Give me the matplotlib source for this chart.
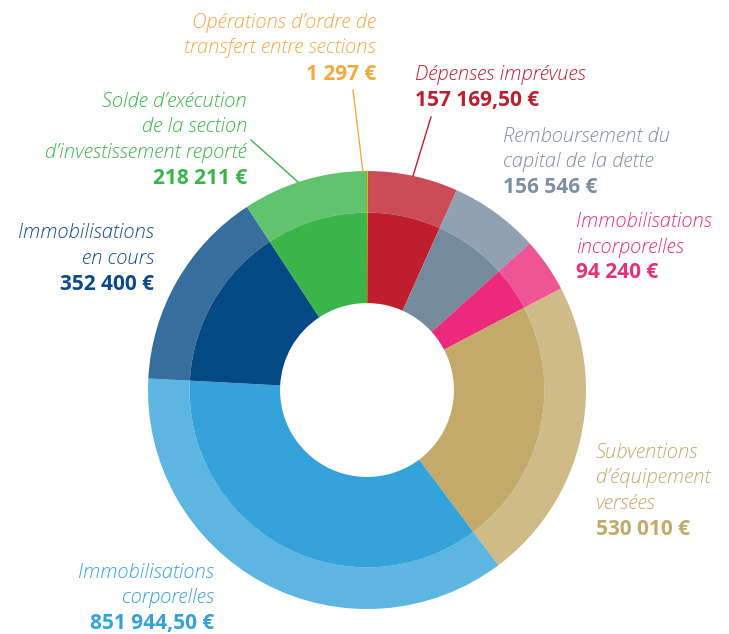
import matplotlib.pyplot as plt
from matplotlib import font_manager

# budget lines, clockwise from the top
labels = [
    "Opérations d’ordre de\ntransfert entre sections",
    "Dépenses imprévues",
    "Remboursement du\ncapital de la dette",
    "Immobilisations\nincorporelles",
    "Subventions\nd’équipement\nversées",
    "Immobilisations\ncorporelles",
    "Immobilisations\nen cours",
    "Solde d’exécution\nde la section\nd’investissement reporté",
]
values = [1297, 157169.50, 156546, 94240, 530010, 851944.50, 352400, 218211]
value_texts = ["1 297 €", "157 169,50 €", "156 546 €", "94 240 €",
               "530 010 €", "851 944,50 €", "352 400 €", "218 211 €"]
colors = ["#FFE500", "#BE1E2D", "#768A9E", "#EC297B",
          "#C4AA6A", "#34A3DA", "#034A85", "#3AB54A"]
text_colors = ["#F7A941", "#BE1E2D", "#7D8FA3", "#E8317A",
               "#C4AA6A", "#34A3DA", "#0B4A8A", "#3AB54A"]

W, H = 729, 634
CX, CY, R = 367, 390, 219
R_MID = 0.81
R_HOLE = 0.397
LINE = 25.5

# label anchor (pixel x, first line center y, alignment)
anchors = [
    (376, 23, "right"),
    (415, 75, "left"),
    (503, 137, "left"),
    (576, 222, "left"),
    (596, 453, "left"),
    (214, 573, "right"),
    (154, 233, "right"),
    (247, 102, "right"),
]
# leader lines (pixel coords) for the labels that have one
leaders = {
    0: ((353, 90), (363, 172)),
    1: ((431, 117), (413, 176)),
    7: ((251, 140), (298, 182)),
}

families = {f.name for f in font_manager.fontManager.ttflist}
family = "Open Sans" if "Open Sans" in families else "DejaVu Sans"


def fx(x):
    return x / W


def fy(y):
    return 1 - y / H


fig = plt.figure(figsize=(W / 100, H / 100), dpi=100)
ax = fig.add_axes([0, 0, 1, 1])

outer, _ = ax.pie(values, radius=1, startangle=90, counterclock=False,
                  colors=colors,
                  wedgeprops=dict(width=1 - R_MID, linewidth=0, alpha=0.8))
inner, _ = ax.pie(values, radius=R_MID, startangle=90, counterclock=False,
                  colors=colors,
                  wedgeprops=dict(width=R_MID - R_HOLE, linewidth=0))
for w in (outer[0], inner[0]):
    w.set_edgecolor("#FFE500")
    w.set_linewidth(1.0)
    w.set_alpha(1)

ax.set_xlim(-CX / R, (W - CX) / R)
ax.set_ylim(-(H - CY) / R, CY / R)
ax.axis("off")

for i, (x, y0, ha) in enumerate(anchors):
    lines = labels[i].split("\n")
    for k, line in enumerate(lines):
        fig.text(fx(x), fy(y0 + k * LINE), line, ha=ha, va="center",
                 fontsize=14.5, style="italic", fontweight="light",
                 color=text_colors[i], family=family)
    fig.text(fx(x), fy(y0 + len(lines) * LINE), value_texts[i], ha=ha,
             va="center", fontsize=15, fontweight="bold",
             color=text_colors[i], family=family)

for i, ((x0, y0), (x1, y1)) in leaders.items():
    fig.add_artist(plt.Line2D([fx(x0), fx(x1)], [fy(y0), fy(y1)],
                              transform=fig.transFigure, lw=1,
                              color=text_colors[i]))

fig.savefig("out.png", dpi=100)
